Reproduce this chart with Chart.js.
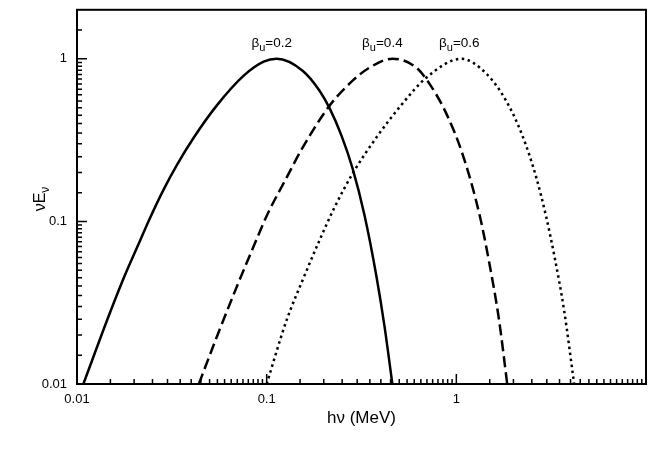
<!DOCTYPE html>
<html>
<head>
<meta charset="utf-8">
<script src="https://cdn.jsdelivr.net/npm/chart.js@4.4.1/dist/chart.umd.min.js"></script>
<style>
  html, body { margin: 0; padding: 0; background: #fff; }
  #wrap { width: 654px; height: 462px; }
</style>
</head>
<body>
<div id="wrap"><canvas id="spec" width="654" height="462"></canvas></div>
<script>
// photon energy hv (MeV) and normalised nuFnu
var beta02E = [0.0108, 0.0149, 0.0177, 0.0212, 0.0239, 0.0287, 0.0336, 0.0413, 0.0545, 0.0757, 0.0964, 0.113, 0.1547, 0.190, 0.2146, 0.248, 0.284, 0.328, 0.379, 0.418, 0.46];
var beta02F = [0.01, 0.0273, 0.0453, 0.0733, 0.101, 0.158, 0.222, 0.328, 0.515, 0.787, 0.959, 1.0, 0.844, 0.636, 0.497, 0.337, 0.211, 0.109, 0.046, 0.0227, 0.01];

var beta04E = [0.0439, 0.0545, 0.0695, 0.0855, 0.1, 0.1274, 0.1547, 0.2146, 0.284, 0.348, 0.46, 0.616, 0.721, 0.886, 1.076, 1.32, 1.49, 1.68, 1.855];
var beta04F = [0.01, 0.0194, 0.0395, 0.0705, 0.108, 0.186, 0.284, 0.515, 0.733, 0.881, 1.0, 0.881, 0.703, 0.46, 0.261, 0.112, 0.056, 0.0247, 0.01];

var beta06E = [0.1, 0.1274, 0.1547, 0.19, 0.228, 0.284, 0.379, 0.52, 0.695, 1.062, 1.44, 1.83, 2.23, 2.64, 2.98, 3.28, 3.70, 4.18];
var beta06F = [0.01, 0.0247, 0.0435, 0.0765, 0.122, 0.197, 0.328, 0.53, 0.765, 1.0, 0.809, 0.552, 0.337, 0.186, 0.106, 0.0622, 0.0284, 0.01];

var curveNames = ['0.2', '0.4', '0.6'];
var labelShift = [-5, -10, -2];

var xMajorTicks = [0.01, 0.1, 1];
var xTickLabels = ['0.01', '0.1', '1'];
var yMajorTicks = [0.01, 0.1, 1];
var yTickLabels = ['0.01', '0.1', '1'];
var minorMantissa = [1.5, 2, 2.5, 3, 3.5, 4, 4.5, 5, 5.5, 6, 6.5, 7, 7.5, 8, 8.5, 9, 9.5];

var X_MIN = 0.01, X_MAX = 10, Y_MIN = 0.01, Y_MAX = 2;
var FONT = '"Liberation Sans", Arial, Helvetica, sans-serif';

function minorTicks(lo, hi) {
    var out = [];
    [0.01, 0.1, 1].forEach(function(d) {
        minorMantissa.forEach(function(m) {
            var v = m * d;
            if (v > lo && v < hi) out.push(v);
        });
    });
    return out;
}

function toPoints(xs, ys) {
    return xs.map(function(x, i) { return { x: x, y: ys[i] }; });
}

// inward tick marks, closed frame, axis titles and curve labels
var framePlugin = {
    id: 'frame',
    afterDatasetsDraw: function(chart) {
        var ctx = chart.ctx, a = chart.chartArea;
        var xs = chart.scales.x, ys = chart.scales.y;
        ctx.save();
        ctx.strokeStyle = '#000';
        ctx.lineWidth = 1.5;
        ctx.beginPath();
        xMajorTicks.forEach(function(v) {
            var p = xs.getPixelForValue(v);
            ctx.moveTo(p, a.bottom); ctx.lineTo(p, a.bottom - 10);
        });
        minorTicks(X_MIN, X_MAX).forEach(function(v) {
            var p = xs.getPixelForValue(v);
            ctx.moveTo(p, a.bottom); ctx.lineTo(p, a.bottom - 5);
        });
        yMajorTicks.forEach(function(v) {
            var p = ys.getPixelForValue(v);
            ctx.moveTo(a.left, p); ctx.lineTo(a.left + 10, p);
        });
        minorTicks(Y_MIN, Y_MAX).forEach(function(v) {
            var p = ys.getPixelForValue(v);
            ctx.moveTo(a.left, p); ctx.lineTo(a.left + 5, p);
        });
        ctx.stroke();

        ctx.lineWidth = 2;
        ctx.strokeRect(a.left, a.top, a.right - a.left, a.bottom - a.top);

        ctx.fillStyle = '#000';
        ctx.textBaseline = 'alphabetic';
        ctx.textAlign = 'center';
        ctx.font = '17px ' + FONT;
        ctx.fillText('h\u03bd (MeV)', (a.left + a.right) / 2, 423);

        // y title with subscript
        ctx.save();
        ctx.translate(45, 199);
        ctx.rotate(-Math.PI / 2);
        ctx.textAlign = 'left';
        ctx.font = '16px ' + FONT;
        var main = '\u03bdE';
        var wMain = ctx.measureText(main).width;
        ctx.font = '12px ' + FONT;
        var wSub = ctx.measureText('\u03bd').width;
        var x0 = -(wMain + wSub) / 2;
        ctx.font = '16px ' + FONT;
        ctx.fillText(main, x0, 0);
        ctx.font = '12px ' + FONT;
        ctx.fillText('\u03bd', x0 + wMain, 4);
        ctx.restore();

        // curve labels above each peak
        var peaks = [beta02E[beta02F.indexOf(1.0)], beta04E[beta04F.indexOf(1.0)], beta06E[beta06F.indexOf(1.0)]];
        ctx.textAlign = 'left';
        curveNames.forEach(function(name, i) {
            var cx = xs.getPixelForValue(peaks[i]) + labelShift[i];
            var by = 47;
            ctx.font = '13.5px ' + FONT;
            var wb = ctx.measureText('\u03b2').width;
            ctx.font = '11px ' + FONT;
            var wu = ctx.measureText('u').width;
            ctx.font = '13.5px ' + FONT;
            var wr = ctx.measureText('=' + name).width;
            var left = cx - (wb + wu + wr) / 2;
            ctx.fillText('\u03b2', left, by);
            ctx.font = '11px ' + FONT;
            ctx.fillText('u', left + wb, by + 4);
            ctx.font = '13.5px ' + FONT;
            ctx.fillText('=' + name, left + wb + wu, by);
        });
        ctx.restore();
    }
};

var lineBase = { pointRadius: 0, showLine: true, fill: false, borderColor: '#000', cubicInterpolationMode: 'monotone' };

new Chart(document.getElementById('spec'), {
    type: 'scatter',
    data: {
        datasets: [
            Object.assign({ label: 'beta_u=0.2', data: toPoints(beta02E, beta02F), borderWidth: 2.5 }, lineBase),
            Object.assign({ label: 'beta_u=0.4', data: toPoints(beta04E, beta04F), borderWidth: 2.5, borderDash: [11, 5] }, lineBase),
            Object.assign({ label: 'beta_u=0.6', data: toPoints(beta06E, beta06F), borderWidth: 2.5, borderDash: [2.5, 3.5] }, lineBase)
        ]
    },
    options: {
        responsive: false,
        animation: false,
        layout: { padding: { left: 0, top: 1, right: 8, bottom: 0 } },
        plugins: { legend: { display: false }, tooltip: { enabled: false } },
        scales: {
            x: {
                type: 'logarithmic', min: X_MIN, max: X_MAX,
                grid: { display: false }, border: { display: false },
                afterBuildTicks: function(s) { s.ticks = xMajorTicks.map(function(v) { return { value: v }; }); },
                afterFit: function(s) { s.height = 78; },
                ticks: {
                    autoSkip: false, maxRotation: 0, padding: 0, color: '#000',
                    font: { family: FONT, size: 13 },
                    callback: function(v) { var i = xMajorTicks.indexOf(v); return i >= 0 ? xTickLabels[i] : ''; }
                }
            },
            y: {
                type: 'logarithmic', min: Y_MIN, max: Y_MAX,
                grid: { display: false }, border: { display: false },
                afterBuildTicks: function(s) { s.ticks = yMajorTicks.map(function(v) { return { value: v }; }); },
                afterFit: function(s) { s.width = 77; },
                ticks: {
                    autoSkip: false, padding: 2, color: '#000',
                    font: { family: FONT, size: 13 },
                    callback: function(v) { var i = yMajorTicks.indexOf(v); return i >= 0 ? yTickLabels[i] : ''; }
                }
            }
        }
    },
    plugins: [framePlugin]
});
</script>
</body>
</html>
